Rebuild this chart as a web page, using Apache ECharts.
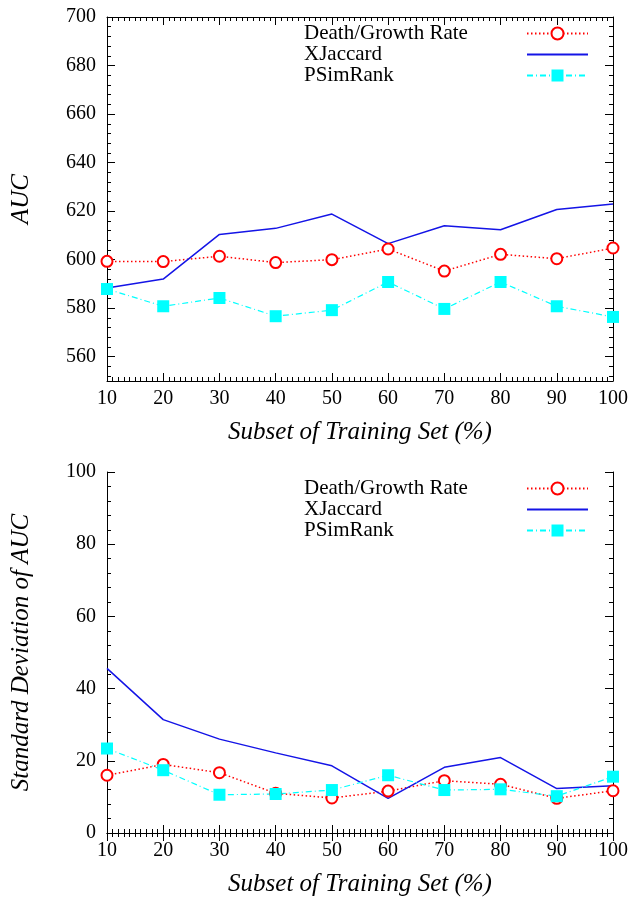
<!DOCTYPE html>
<html>
<head>
<meta charset="utf-8">
<title>AUC</title>
<style>
  html, body { margin: 0; padding: 0; width: 100%; height: 100%; overflow: hidden; background: #fff; }
  #main { width: 642px; height: 898px; }
</style>
<script src="https://cdn.jsdelivr.net/npm/echarts@6/dist/echarts.min.js"></script>
</head>
<body>
<div id="main"></div>
<script>
// data
var subsets = [10, 20, 30, 40, 50, 60, 70, 80, 90, 100];
var seriesNames = ['Death/Growth Rate', 'XJaccard', 'PSimRank'];

var aucDeath    = [599.3, 599.2, 601.4, 598.8, 600.0, 604.4, 595.3, 602.2, 600.4, 604.8];
var aucJaccard  = [588.3, 592.0, 610.4, 612.9, 618.8, 606.6, 614.0, 612.3, 620.7, 622.9];
var aucSimRank  = [587.9, 580.8, 584.2, 576.7, 579.2, 590.8, 579.7, 590.8, 580.8, 576.4];

var sdDeath     = [16.0, 19.0, 16.7, 11.0, 9.7, 11.6, 14.5, 13.5, 9.6, 11.7];
var sdJaccard   = [45.6, 31.4, 26.0, 22.2, 18.6, 9.6, 18.2, 20.9, 12.3, 13.1];
var sdSimRank   = [23.4, 17.4, 10.6, 10.8, 11.9, 16.0, 11.9, 12.1, 10.2, 15.6];

var aucLabels = [560, 580, 600, 620, 640, 660, 680, 700];
var aucMinor = [552, 556, 564, 568, 572, 576, 584, 588, 592, 596, 604, 608, 612, 616,
                624, 628, 632, 636, 644, 648, 652, 656, 664, 668, 672, 676, 684, 688, 692, 696];

var font = 'Liberation Serif';
var colors = ['#ff0000', '#1414e6', '#00ffff'];

function pairs(ys) {
  return subsets.map(function (x, i) { return [x, ys[i]]; });
}

var chart = echarts.init(document.getElementById('main'));

function xAxes(g) {
  var base = {
    gridIndex: g, type: 'value', min: 10, max: 100, interval: 10,
    axisLine: { show: true, lineStyle: { color: '#000', width: 1 } },
    axisTick: { show: true, inside: true, length: 8, lineStyle: { color: '#000' } },
    minorTick: { show: true, splitNumber: 10, length: 4, lineStyle: { color: '#000' } },
    splitLine: { show: false }
  };
  var bottom = Object.assign({}, base, {
    position: 'bottom',
    name: 'Subset of Training Set (%)',
    nameLocation: 'middle', nameGap: 39,
    nameTextStyle: { fontFamily: font, fontStyle: 'italic', fontSize: 25, color: '#000' },
    axisLabel: { fontFamily: font, fontSize: 20, color: '#000', margin: 8 }
  });
  var top = Object.assign({}, base, { position: 'top', axisLabel: { show: false } });
  return [bottom, top];
}

var yLine = { show: true, lineStyle: { color: '#000', width: 1 } };
var yLabel = { fontFamily: font, fontSize: 20, color: '#000', margin: 11 };
var yName = { fontFamily: font, fontStyle: 'italic', fontSize: 25, color: '#000' };

var yAxis = [
  // top chart, labels + major ticks
  { gridIndex: 0, type: 'value', position: 'left', min: 550, max: 700, interval: 10,
    name: 'AUC', nameLocation: 'middle', nameGap: 73, nameTextStyle: yName,
    axisLine: yLine,
    axisTick: { show: true, inside: true, length: 8, customValues: aucLabels, lineStyle: { color: '#000' } },
    axisLabel: Object.assign({ customValues: aucLabels }, yLabel),
    splitLine: { show: false } },
  { gridIndex: 0, type: 'value', position: 'right', min: 550, max: 700, interval: 10,
    axisLine: yLine,
    axisTick: { show: true, inside: true, length: 8, customValues: aucLabels, lineStyle: { color: '#000' } },
    axisLabel: { show: false }, splitLine: { show: false } },
  // top chart, minor ticks
  { gridIndex: 0, type: 'value', position: 'left', min: 550, max: 700, interval: 10,
    axisLine: { show: false },
    axisTick: { show: true, inside: true, length: 4, customValues: aucMinor, lineStyle: { color: '#000' } },
    axisLabel: { show: false }, splitLine: { show: false } },
  { gridIndex: 0, type: 'value', position: 'right', min: 550, max: 700, interval: 10,
    axisLine: { show: false },
    axisTick: { show: true, inside: true, length: 4, customValues: aucMinor, lineStyle: { color: '#000' } },
    axisLabel: { show: false }, splitLine: { show: false } },
  // bottom chart
  { gridIndex: 1, type: 'value', position: 'left', min: 0, max: 100, interval: 20,
    name: 'Standard Deviation of AUC', nameLocation: 'middle', nameGap: 73, nameTextStyle: yName,
    axisLine: yLine,
    axisTick: { show: true, inside: true, length: 8, lineStyle: { color: '#000' } },
    minorTick: { show: true, splitNumber: 5, length: 4, lineStyle: { color: '#000' } },
    axisLabel: yLabel, splitLine: { show: false } },
  { gridIndex: 1, type: 'value', position: 'right', min: 0, max: 100, interval: 20,
    axisLine: yLine,
    axisTick: { show: true, inside: true, length: 8, lineStyle: { color: '#000' } },
    minorTick: { show: true, splitNumber: 5, length: 4, lineStyle: { color: '#000' } },
    axisLabel: { show: false }, splitLine: { show: false } }
];

function makeSeries(xi, yi, d, j, s) {
  return [
    { name: seriesNames[0], type: 'line', xAxisIndex: xi, yAxisIndex: yi, data: pairs(d),
      symbol: 'emptyCircle', symbolSize: 11, showAllSymbol: true,
      itemStyle: { color: colors[0], borderColor: colors[0], borderWidth: 1.5 },
      lineStyle: { color: colors[0], width: 1.5, type: [1.5, 2.5] } },
    { name: seriesNames[1], type: 'line', xAxisIndex: xi, yAxisIndex: yi, data: pairs(j),
      symbol: 'none',
      itemStyle: { color: colors[1] },
      lineStyle: { color: colors[1], width: 1.5 } },
    { name: seriesNames[2], type: 'line', xAxisIndex: xi, yAxisIndex: yi, data: pairs(s),
      symbol: 'rect', symbolSize: 12, showAllSymbol: true,
      itemStyle: { color: colors[2] },
      lineStyle: { color: colors[2], width: 1.2, type: [6, 3, 1, 3] } }
  ];
}

function legendAt(top) {
  return {
    orient: 'vertical', left: 304, top: top, align: 'right', padding: 0,
    itemWidth: 61, itemHeight: 15, itemGap: 0,
    selectedMode: false,
    data: [
      { name: seriesNames[0] },
      { name: seriesNames[1], itemStyle: { opacity: 0 } },
      { name: seriesNames[2] }
    ],
    formatter: function (n) { return '{t|' + n + '}'; },
    textStyle: {
      fontFamily: font, fontSize: 21, color: '#000', lineHeight: 20,
      rich: { t: { width: 218, align: 'left', fontFamily: font, fontSize: 21, lineHeight: 20 } }
    }
  };
}

chart.setOption({
  backgroundColor: '#fff',
  animation: false,
  grid: [
    { left: 107, top: 17, width: 506, height: 364 },
    { left: 107, top: 472, width: 506, height: 364 }
  ],
  legend: [legendAt(23), legendAt(478)],
  xAxis: xAxes(0).concat(xAxes(1)),
  yAxis: yAxis,
  series: makeSeries(0, 0, aucDeath, aucJaccard, aucSimRank)
    .concat(makeSeries(2, 4, sdDeath, sdJaccard, sdSimRank))
});
</script>
</body>
</html>
